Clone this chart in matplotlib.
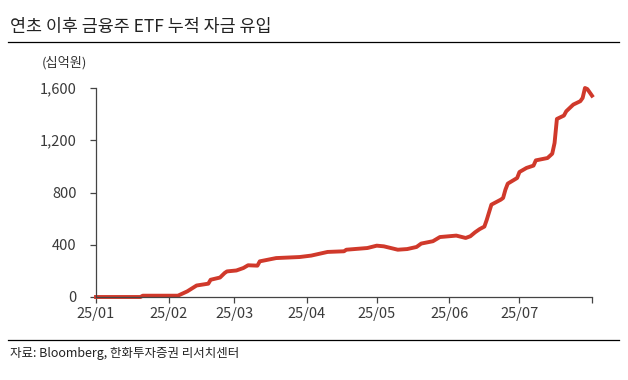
import numpy as np
import pandas as pd
import matplotlib.pyplot as plt
from matplotlib.lines import Line2D

plt.rcParams['font.family'] = ['Noto Sans CJK KR', 'DejaVu Sans']

title = '연초 이후 금융주 ETF 누적 자금 유입'
unit = '(십억원)'
source = '자료: Bloomberg, 한화투자증권 리서치센터'

dates = ['2025-01-01', '2025-01-20', '2025-01-21', '2025-02-05', '2025-02-09',
         '2025-02-13', '2025-02-18', '2025-02-19', '2025-02-23', '2025-02-25',
         '2025-02-26', '2025-03-02', '2025-03-05', '2025-03-07', '2025-03-11',
         '2025-03-12', '2025-03-19', '2025-03-29', '2025-04-03', '2025-04-10',
         '2025-04-17', '2025-04-18', '2025-04-27', '2025-05-01', '2025-05-04',
         '2025-05-10', '2025-05-14', '2025-05-18', '2025-05-20', '2025-05-25',
         '2025-05-28', '2025-06-04', '2025-06-08', '2025-06-10', '2025-06-12',
         '2025-06-14', '2025-06-16', '2025-06-17', '2025-06-19', '2025-06-23',
         '2025-06-24', '2025-06-25', '2025-06-26', '2025-06-30', '2025-07-01',
         '2025-07-04', '2025-07-07', '2025-07-08', '2025-07-13', '2025-07-15',
         '2025-07-16', '2025-07-17', '2025-07-20', '2025-07-21', '2025-07-24',
         '2025-07-27', '2025-07-28', '2025-07-29', '2025-07-30', '2025-08-01']
values = [0, 0, 10, 10, 43,
          88, 102, 132, 149, 184,
          196, 203, 222, 243, 240,
          273, 298, 306, 317, 345,
          350, 362, 375, 393, 388,
          362, 367, 383, 409, 427,
          459, 470, 452, 465, 495,
          520, 539, 590, 707, 745,
          758, 822, 868, 911, 957,
          988, 1006, 1046, 1064, 1097,
          1179, 1363, 1389, 1422, 1473,
          1499, 1524, 1600, 1592, 1541]

tick_dates = ['2025-01-01', '2025-02-01', '2025-03-01', '2025-04-01',
              '2025-05-01', '2025-06-01', '2025-07-01', '2025-08-01']
tick_labels = ['25/01', '25/02', '25/03', '25/04', '25/05', '25/06', '25/07', '']
yticks = [0, 400, 800, 1200, 1600]

x = pd.to_datetime(dates)

fig = plt.figure(figsize=(6.28, 3.8), dpi=100)
ax = fig.add_axes([96 / 628, 83 / 380, 496 / 628, 209 / 380])

ax.plot(x, values, color='#d0392b', lw=2.8, clip_on=False, solid_joinstyle='round')

ax.set_xlim(pd.Timestamp('2025-01-01'), pd.Timestamp('2025-08-01'))
ax.set_ylim(0, 1600)
ax.set_xticks(pd.to_datetime(tick_dates))
ax.set_xticklabels(tick_labels)
ax.set_yticks(yticks)
ax.set_yticklabels([f'{v:,}' for v in yticks])

for s in ['top', 'right']:
    ax.spines[s].set_visible(False)
for s in ['left', 'bottom']:
    ax.spines[s].set_color('#444444')
    ax.spines[s].set_linewidth(0.9)
ax.tick_params(axis='both', colors='#444444', labelcolor='#3a3a3a', labelsize=10.5,
               length=4, width=0.9)
ax.tick_params(axis='y', pad=10)
ax.tick_params(axis='x', pad=3)

fig.text(10 / 628, 1 - 27 / 380, title, fontsize=12.5, color='#222222', va='center')
fig.text(42 / 628, 1 - 63 / 380, unit, fontsize=9.5, color='#333333', va='center')
fig.text(10 / 628, 1 - 353 / 380, source, fontsize=9, color='#222222', va='center')
fig.add_artist(Line2D([8 / 628, 619 / 628], [1 - 42 / 380, 1 - 42 / 380],
                      color='black', lw=0.9, transform=fig.transFigure))
fig.add_artist(Line2D([8 / 628, 619 / 628], [1 - 340 / 380, 1 - 340 / 380],
                      color='black', lw=0.9, transform=fig.transFigure))

fig.savefig('out.png', dpi=100)
